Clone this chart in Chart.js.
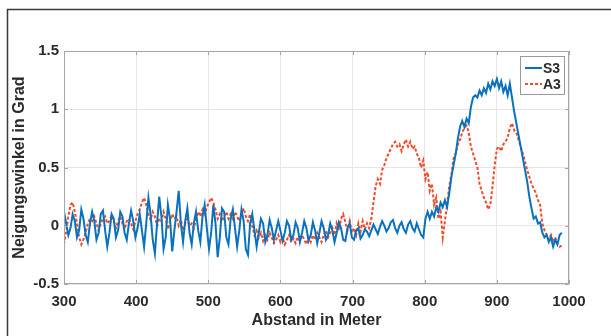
<!DOCTYPE html>
<html>
<head>
<meta charset="utf-8">
<script src="https://cdn.jsdelivr.net/npm/chart.js@4"></script>
<style>
  html, body { margin: 0; padding: 0; background: #fff; }
  #wrap { width: 611px; height: 336px; }
</style>
</head>
<body>
<div id="wrap"><canvas id="graf" width="611" height="336"></canvas></div>
<script>
// Abstand in Meter, step 3 m
const abstand = [];
for (let i = 300; i <= 990; i += 3) abstand.push(i);

const s3 = [
  0.12, 0.02, -0.08, -0.02, 0.10, 0.04, -0.10, -0.04, 0.14, 0.06,
  -0.08, -0.14, 0.02, 0.12, 0.04, -0.12, -0.06, 0.10, 0.13, -0.04,
  -0.18, -0.06, 0.10, 0.06, -0.10, -0.04, 0.12, 0.08, -0.06, -0.12,
  0.02, 0.13, 0.04, -0.10, -0.02, 0.10, -0.04, -0.18, 0.02, 0.24,
  0.10, -0.12, -0.24, 0.02, 0.25, 0.08, -0.20, -0.10, 0.18, 0.06,
  -0.22, -0.04, 0.12, 0.30, 0.02, -0.14, 0.04, 0.15, -0.06, -0.16,
  0.02, 0.12, -0.04, -0.14, 0.08, 0.18, -0.02, -0.20, -0.06, 0.18,
  0.02, -0.27, -0.10, 0.15, 0.12, -0.10, -0.16, 0.06, 0.14, -0.02,
  -0.18, -0.04, 0.14, 0.04, -0.20, -0.25, 0.02, 0.10, -0.04, -0.18,
  -0.06, 0.06, 0.02, -0.14, -0.08, 0.05, -0.02, -0.12, -0.04, 0.04,
  -0.04, -0.13, -0.06, 0.04, 0.00, -0.12, -0.08, 0.03, -0.02, -0.14,
  -0.06, 0.04, -0.02, -0.13, -0.08, 0.03, -0.04, -0.15, -0.06, 0.04,
  -0.02, -0.12, -0.08, 0.02, -0.04, -0.14, -0.06, 0.03, -0.02, -0.12,
  -0.13, -0.02, 0.02, -0.10, -0.12, -0.04, -0.02, -0.11, -0.08, -0.03,
  -0.05, -0.09, -0.04, 0.01, -0.03, -0.07, -0.01, 0.04, 0.00, -0.05,
  -0.02, 0.03, 0.05, -0.02, -0.06, 0.00, 0.03, -0.03, -0.06, 0.01,
  0.04, -0.02, -0.05, 0.02, -0.03, -0.08, -0.10, 0.06, 0.12, 0.06,
  0.12, 0.08, 0.16, 0.12, 0.20, 0.16, 0.22, 0.16, 0.28, 0.42,
  0.52, 0.62, 0.75, 0.85, 0.90, 0.85, 0.92, 0.88, 1.02, 1.10,
  1.12, 1.10, 1.16, 1.12, 1.18, 1.14, 1.22, 1.17, 1.24, 1.20,
  1.26, 1.18, 1.24, 1.15, 1.20, 1.12, 1.22, 1.10, 0.98, 0.88,
  0.78, 0.68, 0.58, 0.48, 0.38, 0.25, 0.15, 0.06, 0.08, 0.02,
  0.03, -0.06, -0.10, -0.08, -0.14, -0.10, -0.18, -0.12, -0.16, -0.08,
  -0.06
];

const a3 = [
  -0.16, -0.05, 0.08, 0.18, 0.20, 0.12, 0.02, -0.10, -0.16, -0.12,
  -0.06, 0.02, 0.06, 0.04, 0.08, 0.02, -0.04, 0.02, 0.06, 0.08,
  0.02, 0.04, 0.09, 0.04, -0.02, 0.04, 0.08, 0.02, -0.03, 0.04,
  0.06, 0.02, -0.03, 0.04, 0.10, 0.14, 0.20, 0.24, 0.18, 0.10,
  0.05, 0.12, 0.08, 0.00, 0.06, 0.04, 0.12, 0.06, -0.03, 0.04,
  0.10, 0.06, 0.08, 0.00, 0.05, -0.04, 0.02, 0.06, 0.00, 0.02,
  -0.02, 0.06, 0.12, 0.08, 0.14, 0.10, 0.16, 0.20, 0.24, 0.20,
  0.14, 0.06, 0.10, 0.04, 0.08, 0.12, 0.06, 0.10, 0.06, 0.12,
  0.08, 0.04, 0.10, 0.15, 0.08, 0.04, 0.10, 0.00, -0.08, -0.04,
  -0.10, -0.06, -0.13, -0.08, -0.12, -0.06, -0.10, -0.15, -0.12, -0.08,
  -0.14, -0.10, -0.16, -0.12, -0.08, -0.14, -0.11, -0.15, -0.10, -0.13,
  -0.08, -0.12, -0.16, -0.10, -0.14, -0.08, -0.12, -0.06, -0.10, -0.14,
  -0.08, -0.04, -0.10, -0.06, -0.02, -0.08, 0.02, -0.04, 0.06, 0.10,
  0.03, -0.04, 0.04, -0.06, -0.02, -0.08, 0.02, -0.05, 0.04, -0.03,
  0.02, -0.02, 0.06, 0.20, 0.34, 0.40, 0.36, 0.48, 0.52, 0.58,
  0.62, 0.66, 0.70, 0.72, 0.68, 0.70, 0.64, 0.70, 0.74, 0.68,
  0.72, 0.66, 0.68, 0.62, 0.58, 0.50, 0.56, 0.40, 0.46, 0.30,
  0.36, 0.18, 0.24, 0.06, 0.12, -0.10, 0.04, 0.18, 0.34, 0.44,
  0.58, 0.62, 0.70, 0.74, 0.80, 0.84, 0.86, 0.80, 0.68, 0.62,
  0.56, 0.50, 0.36, 0.30, 0.24, 0.20, 0.14, 0.18, 0.34, 0.52,
  0.66, 0.68, 0.64, 0.70, 0.72, 0.76, 0.84, 0.88, 0.82, 0.80,
  0.74, 0.68, 0.62, 0.55, 0.48, 0.42, 0.36, 0.32, 0.28, 0.22,
  0.18, 0.02, -0.04, -0.08, -0.12, -0.08, -0.14, -0.10, -0.16, -0.18,
  -0.17
];

const xTicks = [300, 400, 500, 600, 700, 800, 900, 1000];
const yTicks = [-0.5, 0, 0.5, 1, 1.5];

const blau = '#0a72bd';
const rot = '#f04a2a';
const schrift = '#2b2b2b';

const rahmen = {
  id: 'rahmen',
  afterDraw(chart) {
    const c = chart.ctx;
    const a = chart.chartArea;
    const xs = chart.scales.x, ys = chart.scales.y;
    c.save();
    // plot box
    c.strokeStyle = '#a6a6a6';
    c.lineWidth = 1;
    c.strokeRect(a.left + 0.5, a.top + 0.5, a.right - a.left - 1, a.bottom - a.top - 1);
    // inner ticks
    c.beginPath();
    xTicks.forEach(v => {
      const px = Math.round(xs.getPixelForValue(v)) + 0.5;
      c.moveTo(px, a.bottom); c.lineTo(px, a.bottom - 4);
      c.moveTo(px, a.top); c.lineTo(px, a.top + 4);
    });
    yTicks.forEach(v => {
      const py = Math.round(ys.getPixelForValue(v)) + 0.5;
      c.moveTo(a.left, py); c.lineTo(a.left + 4, py);
      c.moveTo(a.right, py); c.lineTo(a.right - 4, py);
    });
    c.stroke();
    // outer frame
    c.strokeStyle = '#3a3a3a';
    c.lineWidth = 1.5;
    c.beginPath();
    c.moveTo(7.5, 336); c.lineTo(7.5, 9.5); c.lineTo(611, 9.5);
    c.stroke();
    // legend
    const lx = 520, ly = 56, lw = 44, lh = 38;
    c.fillStyle = '#fff';
    c.fillRect(lx, ly, lw, lh);
    c.strokeStyle = '#9a9a9a';
    c.lineWidth = 1;
    c.strokeRect(lx + 0.5, ly + 0.5, lw, lh);
    c.font = 'bold 14px "Liberation Sans", Arial, sans-serif';
    c.textBaseline = 'middle';
    chart.data.datasets.forEach((ds, i) => {
      const yy = 68 + i * 16;
      c.strokeStyle = ds.borderColor;
      c.lineWidth = 2;
      c.setLineDash(ds.borderDash || []);
      c.beginPath();
      c.moveTo(525, yy); c.lineTo(542, yy);
      c.stroke();
      c.setLineDash([]);
      c.fillStyle = schrift;
      c.fillText(ds.label, 543, yy + 1);
    });
    c.restore();
  }
};

const cont = document.getElementById('graf').getContext('2d');
const graf = new Chart(cont, {
  type: 'line',
  data: {
    datasets: [
      {
        label: 'S3',
        borderColor: blau,
        borderWidth: 2,
        data: abstand.map((x, i) => ({x: x, y: s3[i]})),
        fill: false,
        order: 1,
      },
      {
        label: 'A3',
        borderColor: rot,
        borderWidth: 2,
        borderDash: [3, 2],
        data: abstand.map((x, i) => ({x: x, y: a3[i]})),
        fill: false,
        order: 2,
      },
    ]
  },
  options: {
    responsive: false,
    animation: false,
    events: [],
    elements: { point: { radius: 0 }, line: { tension: 0 } },
    layout: { padding: { left: 8, right: 42, top: 51, bottom: 2 } },
    plugins: { legend: { display: false }, tooltip: { enabled: false } },
    scales: {
      x: {
        type: 'linear',
        min: 300, max: 1000,
        afterBuildTicks: s => { s.ticks = xTicks.map(v => ({value: v})); },
        afterFit: s => { s.height = 50; },
        grid: { color: '#e6e6e6', drawTicks: false },
        border: { display: false },
        ticks: { color: schrift, padding: 9, maxRotation: 0,
                 callback: v => String(v),
                 font: { family: '"Liberation Sans", Arial, sans-serif', size: 15, weight: 'bold' } },
        title: { display: true, text: 'Abstand in Meter', color: schrift,
                 padding: { top: 0, bottom: 4 },
                 font: { family: '"Liberation Sans", Arial, sans-serif', size: 16, weight: 'bold' } }
      },
      y: {
        min: -0.5, max: 1.5,
        afterBuildTicks: s => { s.ticks = yTicks.map(v => ({value: v})); },
        afterFit: s => { s.width = 56; },
        grid: { color: '#e6e6e6', drawTicks: false },
        border: { display: false },
        ticks: { color: schrift, padding: 5,
                 callback: v => String(v),
                 font: { family: '"Liberation Sans", Arial, sans-serif', size: 15, weight: 'bold' } },
        title: { display: true, text: 'Neigungswinkel in Grad', color: schrift,
                 padding: { top: 2, bottom: 0 },
                 font: { family: '"Liberation Sans", Arial, sans-serif', size: 16, weight: 'bold' } }
      }
    }
  },
  plugins: [rahmen]
});
</script>
</body>
</html>
